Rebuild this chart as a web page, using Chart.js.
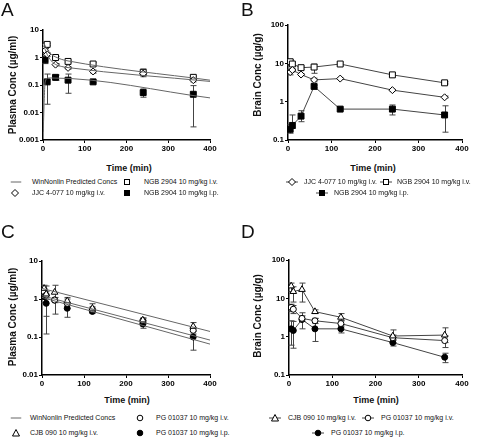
<!DOCTYPE html>
<html>
<head>
<meta charset="utf-8">
<script src="https://cdn.jsdelivr.net/npm/chart.js@4.4.1/dist/chart.umd.min.js"></script>
<style>
  body { margin: 0; background: #fff; }
  #wrap { position: relative; width: 480px; height: 444px; overflow: hidden; font-family: Arial, "Liberation Sans", sans-serif; color: #111; }
  canvas { position: absolute; }
  .letter { position: absolute; font-size: 19px; line-height: 19px; }
  .xt { position: absolute; font-size: 9px; font-weight: bold; transform: translate(-50%, -50%); white-space: nowrap; }
  .yt { position: absolute; font-size: 10px; font-weight: bold; transform: translate(-50%, -50%) rotate(-90deg); white-space: nowrap; }
  .lg { position: absolute; font-size: 7px; line-height: 8px; white-space: nowrap; transform: translateY(-50%); }
  .sym { position: absolute; line-height: 0; transform: translate(-50%, -50%); }
  .sym svg { display: block; }
</style>
</head>
<body>
<div id="wrap">
  <canvas id="chartA" width="240" height="160" style="left:0;top:0"></canvas>
  <canvas id="chartB" width="240" height="160" style="left:240px;top:0"></canvas>
  <canvas id="chartC" width="240" height="175" style="left:0;top:220px"></canvas>
  <canvas id="chartD" width="240" height="175" style="left:240px;top:220px"></canvas>
</div>
<script>
// sampling times (min)
const times = [5, 10, 30, 60, 120, 240, 360];
const xTicks = [0, 100, 200, 300, 400];

// Panel A - plasma
const aTicks = [0.001, 0.01, 0.1, 1, 10];
const aIvSq = [2.6, 3.0, 1.0, 0.72, 0.58, 0.29, 0.19];
const aIvSqLo = [2.3, 2.7, 0.9, 0.65, 0.5, 0.22, 0.17];
const aIvSqHi = [3.0, 3.3, 1.1, 0.8, 0.65, 0.38, 0.21];
const aDia = [1.8, 1.3, 0.55, 0.42, 0.31, 0.26, 0.15];
const aDiaLo = [1.5, 1.1, 0.5, 0.38, 0.27, 0.2, 0.13];
const aDiaHi = [2.1, 1.5, 0.6, 0.46, 0.35, 0.32, 0.17];
const aIpSq = [0.82, 0.13, 0.19, 0.15, 0.13, 0.053, 0.046];
const aIpLo = [0.6, 0.02, 0.15, 0.05, 0.12, 0.036, 0.003];
const aIpHi = [1.0, 0.25, 0.23, 0.25, 0.15, 0.072, 0.095];
// WinNonlin predicted curves, panel A
const aPredIvT = [2, 5, 10, 20, 30, 45, 60, 400];
const aPredSq = [3.4, 2.7, 2.0, 1.3, 1.05, 0.85, 0.75, 0.15];
const aPredDia = [2.6, 2.0, 1.3, 0.75, 0.56, 0.47, 0.43, 0.135];
const aPredIpT = [0.5, 5, 12, 20, 400];
const aPredIp = [0.002, 0.12, 0.18, 0.18, 0.034];

// Panel B - brain
const bTicks = [0.1, 1, 10, 100];
const bIvSq = [11, 9.6, 7.7, 8.0, 9.6, 5.0, 3.1];
const bIvSqLo = [9, 8.5, 7, 5.5, 9, 4.6, 2.9];
const bIvSqHi = [12.5, 10.5, 8.5, 9.5, 10.3, 5.4, 3.3];
const bDia = [5.9, 6.7, 5.1, 3.7, 4.0, 2.0, 1.3];
const bDiaLo = [5, 6, 4.8, 3.3, 3.8, 1.9, 1.25];
const bDiaHi = [6.8, 7.3, 5.4, 4.1, 4.2, 2.1, 1.4];
const bIpSq = [0.19, 0.24, 0.42, 2.5, 0.64, 0.64, 0.45];
const bIpLo = [0.15, 0.2, 0.3, 2.3, 0.6, 0.45, 0.16];
const bIpHi = [0.25, 0.45, 0.58, 2.7, 0.68, 0.82, 0.78];

// Panel C - plasma
const cTicks = [0.01, 0.1, 1, 10];
const cTri = [1.9, 1.35, 1.5, 0.89, 0.57, 0.28, 0.19];
const cTriLo = [1.5, 0.35, 0.9, 0.7, 0.45, 0.24, 0.15];
const cTriHi = [2.3, 2.2, 2.3, 1.1, 0.75, 0.32, 0.24];
const cOpen = [1.56, 1.27, 0.94, 0.77, 0.53, 0.27, 0.15];
const cOpenLo = [1.3, 1.0, 0.8, 0.55, 0.45, 0.22, 0.12];
const cOpenHi = [1.9, 1.6, 1.1, 1.0, 0.62, 0.3, 0.18];
const cFill = [1.15, 0.77, 0.94, 0.57, 0.47, 0.22, 0.1];
const cFillLo = [0.8, 0.12, 0.4, 0.33, 0.42, 0.17, 0.045];
const cFillHi = [1.6, 1.25, 1.5, 0.8, 0.55, 0.27, 0.14];
const cPredT = [0, 400];
const cPredTop = [1.9, 0.14];
const cPredMid = [1.22, 0.083];
const cPredLow = [1.1, 0.065];

// Panel D - brain
const dTicks = [0.1, 1, 10, 100];
const dTri = [21, 15, 17, 4.5, 3.2, 1.04, 1.1];
const dTriLo = [15, 8, 8, 4, 2.6, 0.7, 0.7];
const dTriHi = [25, 20, 25, 5, 4, 1.5, 1.7];
const dOpen = [5.8, 5.2, 3.0, 2.6, 2.2, 0.94, 0.79];
const dOpenLo = [4.5, 4, 2.5, 2.2, 1.8, 0.8, 0.52];
const dOpenHi = [7, 6.5, 3.5, 3, 2.6, 1.1, 1.05];
const dFill = [1.6, 1.45, 2.8, 1.6, 1.6, 0.7, 0.29];
const dFillLo = [0.6, 0.5, 1.6, 0.75, 1.25, 0.57, 0.21];
const dFillHi = [2.6, 2.5, 4.2, 3.0, 2.0, 0.85, 0.37];

const pts = (t, v) => t.map((x, i) => ({ x: x, y: v[i] }));

// error bars drawn under the markers
const errorBars = {
    id: 'errorBars',
    beforeDatasetsDraw(chart) {
        const { ctx, scales: { x, y } } = chart;
        ctx.save();
        ctx.strokeStyle = '#444';
        ctx.lineWidth = 1;
        chart.data.datasets.forEach(ds => {
            if (!ds.errLo) return;
            ds.data.forEach((p, i) => {
                const px = Math.round(x.getPixelForValue(p.x)) + 0.5;
                const lo = y.getPixelForValue(ds.errLo[i]);
                const hi = y.getPixelForValue(ds.errHi[i]);
                ctx.beginPath();
                ctx.moveTo(px, lo); ctx.lineTo(px, hi);
                ctx.moveTo(px - 3, lo); ctx.lineTo(px + 3, lo);
                ctx.moveTo(px - 3, hi); ctx.lineTo(px + 3, hi);
                ctx.stroke();
            });
        });
        ctx.restore();
    }
};

function markerSet(data, lo, hi, style, fill, radius, joined) {
    return {
        data: data, errLo: lo, errHi: hi,
        showLine: joined, borderColor: '#444', borderWidth: 1,
        pointStyle: style, pointRadius: radius,
        pointBackgroundColor: fill, pointBorderColor: '#000', pointBorderWidth: 1
    };
}

function predSet(data) {
    return {
        data: data, showLine: true, borderColor: '#666', borderWidth: 1,
        pointRadius: 0, cubicInterpolationMode: 'monotone'
    };
}

function makeChart(id, datasets, yTicks, yWidth, padTop, padRight) {
    const tickFont = { family: 'Arial, "Liberation Sans"', size: 8, weight: 'bold' };
    return new Chart(document.getElementById(id).getContext('2d'), {
        type: 'scatter',
        data: { datasets: datasets },
        options: {
            responsive: false,
            animation: false,
            layout: { padding: { top: padTop, right: padRight, left: 0, bottom: 0 } },
            plugins: { legend: { display: false }, tooltip: { enabled: false } },
            scales: {
                x: {
                    type: 'linear', min: 0, max: 400,
                    afterBuildTicks: s => { s.ticks = xTicks.map(v => ({ value: v })); },
                    afterFit: s => { s.height = 20; },
                    grid: { drawOnChartArea: false, drawTicks: true, tickLength: 3, color: '#000' },
                    border: { color: '#000', width: 1.5 },
                    ticks: { font: tickFont, color: '#000', padding: 1, maxRotation: 0 }
                },
                y: {
                    type: 'logarithmic', min: yTicks[0], max: yTicks[yTicks.length - 1],
                    afterBuildTicks: s => { s.ticks = yTicks.map(v => ({ value: v })); },
                    afterFit: s => { s.width = yWidth; },
                    grid: { drawOnChartArea: false, drawTicks: true, tickLength: 3, color: '#000' },
                    border: { color: '#000', width: 1.5 },
                    ticks: { font: tickFont, color: '#000', padding: 1, callback: v => String(v) }
                }
            }
        },
        plugins: [errorBars]
    });
}

makeChart('chartA', [
    predSet(pts(aPredIvT, aPredSq)),
    predSet(pts(aPredIvT, aPredDia)),
    predSet(pts(aPredIpT, aPredIp)),
    markerSet(pts(times, aDia), aDiaLo, aDiaHi, 'rectRot', '#fff', 3.5, false),
    markerSet(pts(times, aIvSq), aIvSqLo, aIvSqHi, 'rect', '#fff', 4.2, false),
    markerSet(pts(times, aIpSq), aIpLo, aIpHi, 'rect', '#000', 4.2, false)
], aTicks, 43, 30, 30);

makeChart('chartB', [
    markerSet(pts(times, bDia), bDiaLo, bDiaHi, 'rectRot', '#fff', 3.5, true),
    markerSet(pts(times, bIvSq), bIvSqLo, bIvSqHi, 'rect', '#fff', 4.2, true),
    markerSet(pts(times, bIpSq), bIpLo, bIpHi, 'rect', '#000', 4.2, true)
], bTicks, 48, 25, 18);

makeChart('chartC', [
    predSet(pts(cPredT, cPredTop)),
    predSet(pts(cPredT, cPredMid)),
    predSet(pts(cPredT, cPredLow)),
    markerSet(pts(times, cTri), cTriLo, cTriHi, 'triangle', '#fff', 3.8, false),
    markerSet(pts(times, cOpen), cOpenLo, cOpenHi, 'circle', '#fff', 3, false),
    markerSet(pts(times, cFill), cFillLo, cFillHi, 'circle', '#000', 3, false)
], cTicks, 42, 41, 30);

makeChart('chartD', [
    markerSet(pts(times, dTri), dTriLo, dTriHi, 'triangle', '#fff', 3.8, true),
    markerSet(pts(times, dOpen), dOpenLo, dOpenHi, 'circle', '#fff', 3, true),
    markerSet(pts(times, dFill), dFillLo, dFillHi, 'circle', '#000', 3, true)
], dTicks, 49, 40, 18);

// ---- text: panel letters, axis titles, legends ----
const wrap = document.getElementById('wrap');
function addDiv(cls, x, y, html) {
    const d = document.createElement('div');
    d.className = cls;
    d.style.left = x + 'px';
    d.style.top = y + 'px';
    d.innerHTML = html;
    wrap.appendChild(d);
}

const symbols = {
    sqOpen: '<rect x="3.5" y="3.5" width="5" height="5" fill="#fff" stroke="#000"/>',
    sqFill: '<rect x="3.5" y="3.5" width="5" height="5" fill="#000" stroke="#000"/>',
    diamond: '<polygon points="6,2.5 9.5,6 6,9.5 2.5,6" fill="#fff" stroke="#000"/>',
    triangle: '<polygon points="6,2.5 9.5,9 2.5,9" fill="#fff" stroke="#000"/>',
    circOpen: '<circle cx="6" cy="6" r="2.8" fill="#fff" stroke="#000"/>',
    circFill: '<circle cx="6" cy="6" r="2.8" fill="#000" stroke="#000"/>'
};
function legendSym(cx, cy, sym, withLine) {
    const line = withLine ? '<line x1="0" y1="6" x2="12" y2="6" stroke="#444"/>' : '';
    addDiv('sym', cx, cy, '<svg width="12" height="12">' + line + (symbols[sym] || '') + '</svg>');
}
function legendLine(cx, cy) {
    addDiv('sym', cx, cy, '<svg width="11" height="3"><line x1="0" y1="1.5" x2="11" y2="1.5" stroke="#666"/></svg>');
}

addDiv('letter', 1, 0, 'A');
addDiv('letter', 241, 0, 'B');
addDiv('letter', 1, 222, 'C');
addDiv('letter', 241, 222, 'D');

addDiv('yt', 12, 85, 'Plasma Conc (µg/ml)');
addDiv('yt', 257, 75, 'Brain Conc (µg/g)');
addDiv('yt', 12, 317, 'Plasma Conc (µg/ml)');
addDiv('yt', 257, 316, 'Brain Conc (µg/g)');

addDiv('xt', 129, 168, 'Time (min)');
addDiv('xt', 373, 168, 'Time (min)');
addDiv('xt', 127, 400, 'Time (min)');
addDiv('xt', 376, 400, 'Time (min)');

// A legend
legendLine(16, 182); addDiv('lg', 32, 182, 'WinNonlin Predicted Concs');
legendSym(127, 182, 'sqOpen', false); addDiv('lg', 144, 182, 'NGB 2904 10 mg/kg i.v.');
legendSym(15, 193, 'diamond', false); addDiv('lg', 32, 193, 'JJC 4-077 10 mg/kg i.v.');
legendSym(127, 193, 'sqFill', false); addDiv('lg', 144, 193, 'NGB 2904 10 mg/kg i.p.');

// B legend
legendSym(292, 182, 'diamond', true); addDiv('lg', 304, 182, 'JJC 4-077 10 mg/kg i.v.');
legendSym(386, 182, 'sqOpen', true); addDiv('lg', 397, 182, 'NGB 2904 10 mg/kg i.v.');
legendSym(322, 193, 'sqFill', true); addDiv('lg', 334, 193, 'NGB 2904 10 mg/kg i.p.');

// C legend
legendLine(16, 418); addDiv('lg', 30, 418, 'WinNonlin Predicted Concs');
legendSym(140, 418, 'circOpen', false); addDiv('lg', 156, 418, 'PG 01037 10 mg/kg i.v.');
legendSym(16, 433, 'triangle', false); addDiv('lg', 30, 433, 'CJB 090 10 mg/kg i.v.');
legendSym(140, 433, 'circFill', false); addDiv('lg', 156, 433, 'PG 01037 10 mg/kg i.p.');

// D legend
legendSym(275, 418, 'triangle', true); addDiv('lg', 288, 418, 'CJB 090 10 mg/kg i.v.');
legendSym(368, 418, 'circOpen', true); addDiv('lg', 381, 418, 'PG 01037 10 mg/kg i.v.');
legendSym(318, 433, 'circFill', true); addDiv('lg', 331, 433, 'PG 01037 10 mg/kg i.p.');
</script>
</body>
</html>
